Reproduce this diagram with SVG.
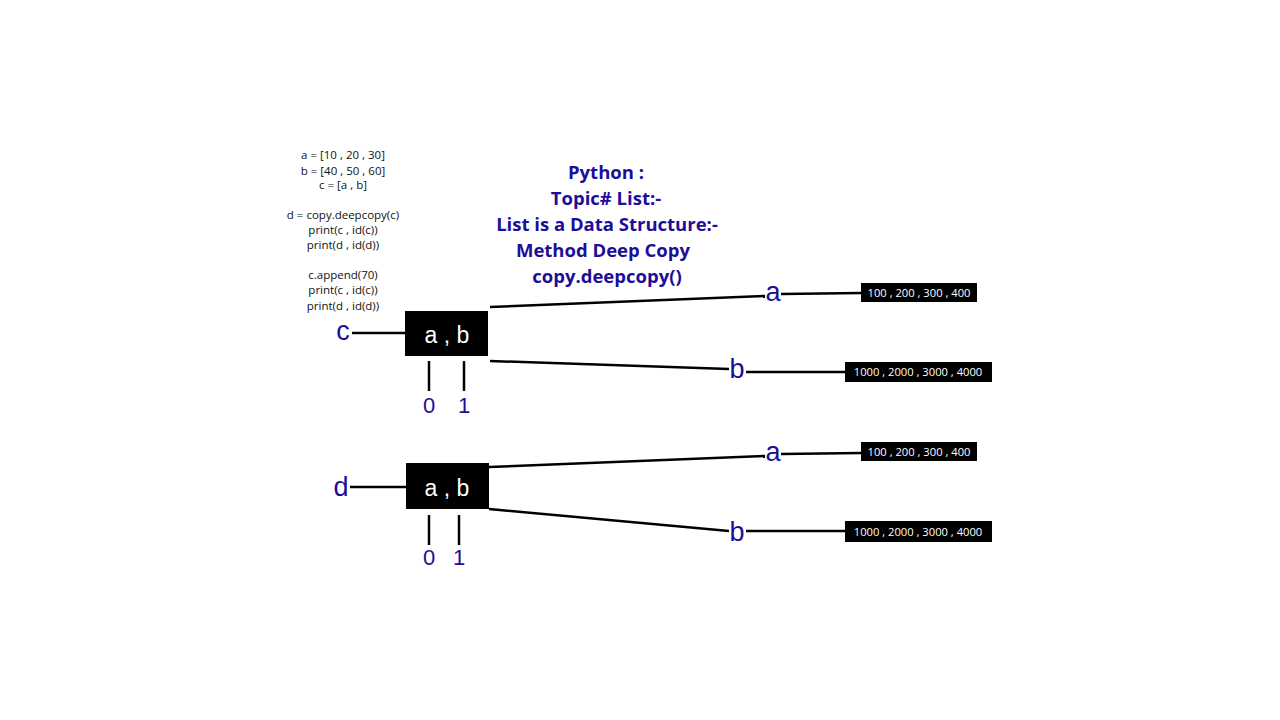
<svg xmlns="http://www.w3.org/2000/svg" width="1280" height="720" viewBox="0 0 1280 720">
<style>
.code{font-family:"Open Sans","Liberation Sans",sans-serif;font-size:11.5px;fill:#111;text-anchor:middle}
.title{font-family:"Open Sans","Liberation Sans",sans-serif;font-size:18.5px;font-weight:bold;fill:#1c0e99;text-anchor:middle}
.box{fill:#000}
.boxt{font-family:"Liberation Sans",sans-serif;font-size:23px;fill:#fff;text-anchor:middle}
.valt{font-family:"Open Sans","Liberation Sans",sans-serif;font-size:11.2px;fill:#fff;text-anchor:middle}
.lbl{font-family:"Liberation Sans",sans-serif;font-size:27px;fill:#1c0e99;text-anchor:middle}
.idx{font-family:"Liberation Sans",sans-serif;font-size:22px;fill:#1c0e99;text-anchor:middle}
.ln{stroke:#000;stroke-width:2.5;fill:none}
</style>
<rect width="1280" height="720" fill="#fff"/>
<g id="code">
<text class="code" x="343" y="159">a = [10 , 20 , 30]</text>
<text class="code" x="343" y="175">b = [40 , 50 , 60]</text>
<text class="code" x="343" y="189">c = [a , b]</text>
<text class="code" x="343" y="219">d = copy.deepcopy(c)</text>
<text class="code" x="343" y="234">print(c , id(c))</text>
<text class="code" x="343" y="249">print(d , id(d))</text>
<text class="code" x="343" y="279">c.append(70)</text>
<text class="code" x="343" y="294">print(c , id(c))</text>
<text class="code" x="343" y="310">print(d , id(d))</text>
</g>
<g id="title">
<text class="title" x="606" y="179">Python :</text>
<text class="title" x="606" y="205">Topic# List:-</text>
<text class="title" x="607" y="231">List is a Data Structure:-</text>
<text class="title" x="603" y="257">Method Deep Copy</text>
<text class="title" x="607" y="283">copy.deepcopy()</text>
</g>
<g id="connectors">
<line class="ln" x1="352" y1="333" x2="405" y2="333"/>
<line class="ln" x1="429" y1="361" x2="429" y2="391"/>
<line class="ln" x1="464" y1="361" x2="464" y2="391"/>
<line class="ln" x1="490" y1="307" x2="765" y2="296"/>
<line class="ln" x1="781" y1="294" x2="862" y2="293"/>
<line class="ln" x1="490" y1="361" x2="729" y2="369"/>
<line class="ln" x1="746" y1="372" x2="846" y2="372"/>
<line class="ln" x1="350" y1="487" x2="406" y2="487"/>
<line class="ln" x1="429" y1="515" x2="429" y2="545"/>
<line class="ln" x1="459" y1="515" x2="459" y2="545"/>
<line class="ln" x1="489" y1="467" x2="765" y2="456"/>
<line class="ln" x1="781" y1="454" x2="862" y2="453"/>
<line class="ln" x1="489" y1="509" x2="729" y2="531"/>
<line class="ln" x1="746" y1="531" x2="846" y2="531"/>
</g>
<g id="node-c">
<text class="lbl" x="343" y="340">c</text>
<rect class="box" x="405" y="311" width="83" height="45"/>
<text class="boxt" x="447" y="343">a , b</text>
<text class="idx" x="429" y="413">0</text>
<text class="idx" x="464" y="413">1</text>
</g>
<g id="node-c-a">
<text class="lbl" x="773" y="301">a</text>
<rect class="box" x="861" y="283" width="116" height="19"/>
<text class="valt" x="919" y="297">100 , 200 , 300 , 400</text>
</g>
<g id="node-c-b">
<text class="lbl" x="737" y="378">b</text>
<rect class="box" x="845" y="362" width="147" height="20"/>
<text class="valt" x="918" y="376">1000 , 2000 , 3000 , 4000</text>
</g>
<g id="node-d">
<text class="lbl" x="341" y="496">d</text>
<rect class="box" x="406" y="463" width="83" height="46"/>
<text class="boxt" x="447" y="496">a , b</text>
<text class="idx" x="429" y="565">0</text>
<text class="idx" x="459" y="565">1</text>
</g>
<g id="node-d-a">
<text class="lbl" x="773" y="461">a</text>
<rect class="box" x="861" y="442" width="116" height="19"/>
<text class="valt" x="919" y="456">100 , 200 , 300 , 400</text>
</g>
<g id="node-d-b">
<text class="lbl" x="737" y="541">b</text>
<rect class="box" x="845" y="521" width="147" height="21"/>
<text class="valt" x="918" y="536">1000 , 2000 , 3000 , 4000</text>
</g>
</svg>
